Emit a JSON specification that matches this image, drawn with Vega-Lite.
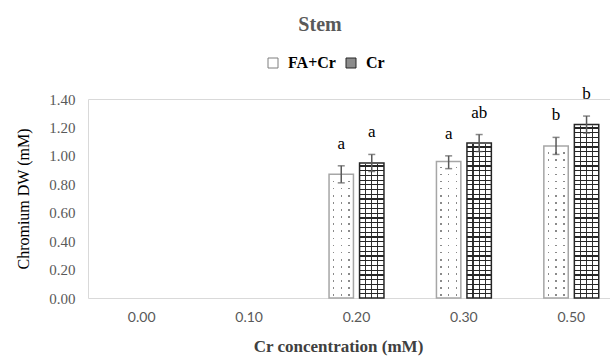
{
"$schema": "https://vega.github.io/schema/vega-lite/v6.json",
"width": 522, "height": 199,
"autosize": {"type": "none"},
"padding": {"left": 88, "top": 99, "right": 0, "bottom": 60},
"background": "white",
"title": {"text": "Stem", "font": "Liberation Serif", "fontSize": 20, "fontWeight": "bold", "color": "#595959", "anchor": "middle", "frame": "group", "dx": -29, "offset": 20},
"data": {"values": [
{"conc": "0.20", "series": "FA+Cr", "value": 0.87, "lo": 0.81, "hi": 0.93, "letter": "a"},
{"conc": "0.20", "series": "Cr", "value": 0.95, "lo": 0.89, "hi": 1.01, "letter": "a"},
{"conc": "0.30", "series": "FA+Cr", "value": 0.96, "lo": 0.91, "hi": 1.0, "letter": "a"},
{"conc": "0.30", "series": "Cr", "value": 1.09, "lo": 1.03, "hi": 1.15, "letter": "ab"},
{"conc": "0.50", "series": "FA+Cr", "value": 1.07, "lo": 1.01, "hi": 1.13, "letter": "b"},
{"conc": "0.50", "series": "Cr", "value": 1.22, "lo": 1.16, "hi": 1.28, "letter": "b"}
]},
"config": {
"view": {"stroke": null},
"legend": {"labelFont": "Liberation Serif", "labelFontSize": 16, "labelFontWeight": "bold", "labelColor": "#000000"},
"axisX": {"labelFont": "Lato", "labelFontSize": 14, "labelColor": "#595959", "labelPadding": 12, "labelAngle": 0, "ticks": false, "tickSize": 0, "domainColor": "#d9d9d9", "domainWidth": 1, "titleFont": "Liberation Serif", "titleFontSize": 17, "titleFontWeight": "bold", "titleColor": "#404040", "titlePadding": 14, "titleX": 250},
"axisY": {"labelFont": "Liberation Serif", "labelFontSize": 15, "labelColor": "#595959", "labelPadding": 13, "labelOverlap": false, "ticks": false, "tickSize": 0, "domainColor": "#d9d9d9", "domainWidth": 1, "gridColor": "#d9d9d9", "titleFont": "Liberation Serif", "titleFontSize": 16, "titleFontWeight": "normal", "titleColor": "#000000", "titlePadding": 17}
},
"layer": [
{
"mark": {"type": "point", "shape": "square", "filled": true, "size": 100, "strokeWidth": 1, "opacity": 1},
"encoding": {
"x": {"field": "conc", "type": "nominal", "title": "Cr concentration (mM)", "scale": {"domain": ["0.00", "0.10", "0.20", "0.30", "0.50"], "range": [0, 537], "paddingInner": 0, "paddingOuter": 0}},
"xOffset": {"field": "series", "type": "nominal", "scale": {"domain": ["FA+Cr", "Cr"], "paddingInner": 0.2, "paddingOuter": 0.86}},
"y": {"datum": 0.1, "type": "quantitative", "title": "Chromium DW (mM)", "scale": {"domain": [0, 1.4], "nice": false}, "axis": {"values": [0, 0.2, 0.4, 0.6, 0.8, 1, 1.2, 1.4], "format": ".2f", "grid": true, "labelOverlap": false, "gridOpacity": {"condition": {"test": "datum.value >= 1.39", "value": 1}, "value": 0}}},
"fill": {"field": "series", "type": "nominal", "scale": {"domain": ["FA+Cr", "Cr"], "range": ["#ffffff", "#8c8c8c"]}, "legend": {"title": null, "orient": "none", "legendX": 177, "legendY": -44, "direction": "horizontal", "labelFont": "Liberation Serif", "labelFontSize": 16, "labelFontWeight": "bold", "labelColor": "#000000", "symbolSize": 100, "symbolStrokeWidth": 1, "labelOffset": 7, "columnPadding": 7, "padding": 0}},
"stroke": {"field": "series", "type": "nominal", "scale": {"domain": ["FA+Cr", "Cr"], "range": ["#7f7f7f", "#262626"]}, "legend": {"title": null, "orient": "none", "legendX": 177, "legendY": -44, "direction": "horizontal", "labelFont": "Liberation Serif", "labelFontSize": 16, "labelFontWeight": "bold", "labelColor": "#000000", "symbolSize": 100, "symbolStrokeWidth": 1, "labelOffset": 7, "columnPadding": 7, "padding": 0}}
}
},
{
"transform": [{"filter": "datum.series === 'FA+Cr'"}],
"mark": {"type": "bar", "fill": {"gradient": "linear", "x1": 0, "y1": 0, "x2": 1, "y2": 0, "stops": [
{"offset": 0, "color": "#fff"}, {"offset": 0.15, "color": "#fff"}, {"offset": 0.15, "color": "#8a8a8a"}, {"offset": 0.21, "color": "#8a8a8a"}, {"offset": 0.21, "color": "#fff"},
{"offset": 0.47, "color": "#fff"}, {"offset": 0.47, "color": "#8a8a8a"}, {"offset": 0.53, "color": "#8a8a8a"}, {"offset": 0.53, "color": "#fff"},
{"offset": 0.79, "color": "#fff"}, {"offset": 0.79, "color": "#8a8a8a"}, {"offset": 0.85, "color": "#8a8a8a"}, {"offset": 0.85, "color": "#fff"}, {"offset": 1, "color": "#fff"}]}},
"encoding": {
"x": {"field": "conc", "type": "nominal", "title": "Cr concentration (mM)"},
"xOffset": {"field": "series", "type": "nominal"},
"y": {"datum": 0, "type": "quantitative", "title": "Chromium DW (mM)", "axis": {"values": [0, 0.2, 0.4, 0.6, 0.8, 1, 1.2, 1.4], "format": ".2f", "grid": true, "labelOverlap": false, "gridOpacity": {"condition": {"test": "datum.value >= 1.39", "value": 1}, "value": 0}}},
"y2": {"datum": 1.3}
}
},
{
"transform": [{"filter": "datum.series === 'FA+Cr'"}],
"mark": {"type": "bar", "fill": {"gradient": "linear", "x1": 0, "y1": 0, "x2": 0, "y2": 1, "stops": [
{"offset": 0, "color": "#fff"},
{"offset": 0.0192, "color": "#fff"}, {"offset": 0.0192, "color": "rgba(255,255,255,0)"}, {"offset": 0.0282, "color": "rgba(255,255,255,0)"}, {"offset": 0.0282, "color": "#fff"},
{"offset": 0.0577, "color": "#fff"}, {"offset": 0.0577, "color": "rgba(255,255,255,0)"}, {"offset": 0.0667, "color": "rgba(255,255,255,0)"}, {"offset": 0.0667, "color": "#fff"},
{"offset": 0.0962, "color": "#fff"}, {"offset": 0.0962, "color": "rgba(255,255,255,0)"}, {"offset": 0.1052, "color": "rgba(255,255,255,0)"}, {"offset": 0.1052, "color": "#fff"},
{"offset": 0.1346, "color": "#fff"}, {"offset": 0.1346, "color": "rgba(255,255,255,0)"}, {"offset": 0.1436, "color": "rgba(255,255,255,0)"}, {"offset": 0.1436, "color": "#fff"},
{"offset": 0.1731, "color": "#fff"}, {"offset": 0.1731, "color": "rgba(255,255,255,0)"}, {"offset": 0.1821, "color": "rgba(255,255,255,0)"}, {"offset": 0.1821, "color": "#fff"},
{"offset": 0.2115, "color": "#fff"}, {"offset": 0.2115, "color": "rgba(255,255,255,0)"}, {"offset": 0.2205, "color": "rgba(255,255,255,0)"}, {"offset": 0.2205, "color": "#fff"},
{"offset": 0.25, "color": "#fff"}, {"offset": 0.25, "color": "rgba(255,255,255,0)"}, {"offset": 0.259, "color": "rgba(255,255,255,0)"}, {"offset": 0.259, "color": "#fff"},
{"offset": 0.2885, "color": "#fff"}, {"offset": 0.2885, "color": "rgba(255,255,255,0)"}, {"offset": 0.2975, "color": "rgba(255,255,255,0)"}, {"offset": 0.2975, "color": "#fff"},
{"offset": 0.3269, "color": "#fff"}, {"offset": 0.3269, "color": "rgba(255,255,255,0)"}, {"offset": 0.3359, "color": "rgba(255,255,255,0)"}, {"offset": 0.3359, "color": "#fff"},
{"offset": 0.3654, "color": "#fff"}, {"offset": 0.3654, "color": "rgba(255,255,255,0)"}, {"offset": 0.3744, "color": "rgba(255,255,255,0)"}, {"offset": 0.3744, "color": "#fff"},
{"offset": 0.4038, "color": "#fff"}, {"offset": 0.4038, "color": "rgba(255,255,255,0)"}, {"offset": 0.4128, "color": "rgba(255,255,255,0)"}, {"offset": 0.4128, "color": "#fff"},
{"offset": 0.4423, "color": "#fff"}, {"offset": 0.4423, "color": "rgba(255,255,255,0)"}, {"offset": 0.4513, "color": "rgba(255,255,255,0)"}, {"offset": 0.4513, "color": "#fff"},
{"offset": 0.4808, "color": "#fff"}, {"offset": 0.4808, "color": "rgba(255,255,255,0)"}, {"offset": 0.4898, "color": "rgba(255,255,255,0)"}, {"offset": 0.4898, "color": "#fff"},
{"offset": 0.5192, "color": "#fff"}, {"offset": 0.5192, "color": "rgba(255,255,255,0)"}, {"offset": 0.5282, "color": "rgba(255,255,255,0)"}, {"offset": 0.5282, "color": "#fff"},
{"offset": 0.5577, "color": "#fff"}, {"offset": 0.5577, "color": "rgba(255,255,255,0)"}, {"offset": 0.5667, "color": "rgba(255,255,255,0)"}, {"offset": 0.5667, "color": "#fff"},
{"offset": 0.5962, "color": "#fff"}, {"offset": 0.5962, "color": "rgba(255,255,255,0)"}, {"offset": 0.6052, "color": "rgba(255,255,255,0)"}, {"offset": 0.6052, "color": "#fff"},
{"offset": 0.6346, "color": "#fff"}, {"offset": 0.6346, "color": "rgba(255,255,255,0)"}, {"offset": 0.6436, "color": "rgba(255,255,255,0)"}, {"offset": 0.6436, "color": "#fff"},
{"offset": 0.6731, "color": "#fff"}, {"offset": 0.6731, "color": "rgba(255,255,255,0)"}, {"offset": 0.6821, "color": "rgba(255,255,255,0)"}, {"offset": 0.6821, "color": "#fff"},
{"offset": 0.7115, "color": "#fff"}, {"offset": 0.7115, "color": "rgba(255,255,255,0)"}, {"offset": 0.7205, "color": "rgba(255,255,255,0)"}, {"offset": 0.7205, "color": "#fff"},
{"offset": 0.75, "color": "#fff"}, {"offset": 0.75, "color": "rgba(255,255,255,0)"}, {"offset": 0.759, "color": "rgba(255,255,255,0)"}, {"offset": 0.759, "color": "#fff"},
{"offset": 0.7885, "color": "#fff"}, {"offset": 0.7885, "color": "rgba(255,255,255,0)"}, {"offset": 0.7975, "color": "rgba(255,255,255,0)"}, {"offset": 0.7975, "color": "#fff"},
{"offset": 0.8269, "color": "#fff"}, {"offset": 0.8269, "color": "rgba(255,255,255,0)"}, {"offset": 0.8359, "color": "rgba(255,255,255,0)"}, {"offset": 0.8359, "color": "#fff"},
{"offset": 0.8654, "color": "#fff"}, {"offset": 0.8654, "color": "rgba(255,255,255,0)"}, {"offset": 0.8744, "color": "rgba(255,255,255,0)"}, {"offset": 0.8744, "color": "#fff"},
{"offset": 0.9038, "color": "#fff"}, {"offset": 0.9038, "color": "rgba(255,255,255,0)"}, {"offset": 0.9128, "color": "rgba(255,255,255,0)"}, {"offset": 0.9128, "color": "#fff"},
{"offset": 0.9423, "color": "#fff"}, {"offset": 0.9423, "color": "rgba(255,255,255,0)"}, {"offset": 0.9513, "color": "rgba(255,255,255,0)"}, {"offset": 0.9513, "color": "#fff"},
{"offset": 0.9808, "color": "#fff"}, {"offset": 0.9808, "color": "rgba(255,255,255,0)"}, {"offset": 0.9898, "color": "rgba(255,255,255,0)"}, {"offset": 0.9898, "color": "#fff"},
{"offset": 1, "color": "#fff"}]}},
"encoding": {
"x": {"field": "conc", "type": "nominal", "title": "Cr concentration (mM)"},
"xOffset": {"field": "series", "type": "nominal"},
"y": {"datum": 0, "type": "quantitative", "title": "Chromium DW (mM)", "axis": {"values": [0, 0.2, 0.4, 0.6, 0.8, 1, 1.2, 1.4], "format": ".2f", "grid": true, "labelOverlap": false, "gridOpacity": {"condition": {"test": "datum.value >= 1.39", "value": 1}, "value": 0}}},
"y2": {"datum": 1.3}
}
},
{
"transform": [{"filter": "datum.series === 'Cr'"}],
"mark": {"type": "bar", "fill": {"gradient": "linear", "x1": 0, "y1": 0, "x2": 1, "y2": 0, "stops": [
{"offset": 0, "color": "#fff"}, {"offset": 0.225, "color": "#fff"}, {"offset": 0.225, "color": "#333"}, {"offset": 0.275, "color": "#333"}, {"offset": 0.275, "color": "#fff"},
{"offset": 0.475, "color": "#fff"}, {"offset": 0.475, "color": "#333"}, {"offset": 0.525, "color": "#333"}, {"offset": 0.525, "color": "#fff"},
{"offset": 0.725, "color": "#fff"}, {"offset": 0.725, "color": "#333"}, {"offset": 0.775, "color": "#333"}, {"offset": 0.775, "color": "#fff"}, {"offset": 1, "color": "#fff"}]}},
"encoding": {
"x": {"field": "conc", "type": "nominal", "title": "Cr concentration (mM)"},
"xOffset": {"field": "series", "type": "nominal"},
"y": {"datum": 0, "type": "quantitative", "title": "Chromium DW (mM)", "axis": {"values": [0, 0.2, 0.4, 0.6, 0.8, 1, 1.2, 1.4], "format": ".2f", "grid": true, "labelOverlap": false, "gridOpacity": {"condition": {"test": "datum.value >= 1.39", "value": 1}, "value": 0}}},
"y2": {"datum": 1.3}
}
},
{
"transform": [{"filter": "datum.series === 'Cr'"}],
"mark": {"type": "bar", "fill": {"gradient": "linear", "x1": 0, "y1": 0, "x2": 0, "y2": 1, "stops": [
{"offset": 0, "color": "rgba(0,0,0,0)"},
{"offset": 0.0256, "color": "rgba(0,0,0,0)"}, {"offset": 0.0256, "color": "#262626"}, {"offset": 0.0321, "color": "#262626"}, {"offset": 0.0321, "color": "rgba(0,0,0,0)"},
{"offset": 0.0513, "color": "rgba(0,0,0,0)"}, {"offset": 0.0513, "color": "#262626"}, {"offset": 0.0578, "color": "#262626"}, {"offset": 0.0578, "color": "rgba(0,0,0,0)"},
{"offset": 0.0769, "color": "rgba(0,0,0,0)"}, {"offset": 0.0769, "color": "#262626"}, {"offset": 0.0834, "color": "#262626"}, {"offset": 0.0834, "color": "rgba(0,0,0,0)"},
{"offset": 0.1026, "color": "rgba(0,0,0,0)"}, {"offset": 0.1026, "color": "#262626"}, {"offset": 0.1091, "color": "#262626"}, {"offset": 0.1091, "color": "rgba(0,0,0,0)"},
{"offset": 0.1282, "color": "rgba(0,0,0,0)"}, {"offset": 0.1282, "color": "#262626"}, {"offset": 0.1347, "color": "#262626"}, {"offset": 0.1347, "color": "rgba(0,0,0,0)"},
{"offset": 0.1538, "color": "rgba(0,0,0,0)"}, {"offset": 0.1538, "color": "#262626"}, {"offset": 0.1603, "color": "#262626"}, {"offset": 0.1603, "color": "rgba(0,0,0,0)"},
{"offset": 0.1795, "color": "rgba(0,0,0,0)"}, {"offset": 0.1795, "color": "#262626"}, {"offset": 0.186, "color": "#262626"}, {"offset": 0.186, "color": "rgba(0,0,0,0)"},
{"offset": 0.2051, "color": "rgba(0,0,0,0)"}, {"offset": 0.2051, "color": "#262626"}, {"offset": 0.2116, "color": "#262626"}, {"offset": 0.2116, "color": "rgba(0,0,0,0)"},
{"offset": 0.2308, "color": "rgba(0,0,0,0)"}, {"offset": 0.2308, "color": "#262626"}, {"offset": 0.2373, "color": "#262626"}, {"offset": 0.2373, "color": "rgba(0,0,0,0)"},
{"offset": 0.2564, "color": "rgba(0,0,0,0)"}, {"offset": 0.2564, "color": "#262626"}, {"offset": 0.2629, "color": "#262626"}, {"offset": 0.2629, "color": "rgba(0,0,0,0)"},
{"offset": 0.2821, "color": "rgba(0,0,0,0)"}, {"offset": 0.2821, "color": "#262626"}, {"offset": 0.2886, "color": "#262626"}, {"offset": 0.2886, "color": "rgba(0,0,0,0)"},
{"offset": 0.3077, "color": "rgba(0,0,0,0)"}, {"offset": 0.3077, "color": "#262626"}, {"offset": 0.3142, "color": "#262626"}, {"offset": 0.3142, "color": "rgba(0,0,0,0)"},
{"offset": 0.3333, "color": "rgba(0,0,0,0)"}, {"offset": 0.3333, "color": "#262626"}, {"offset": 0.3398, "color": "#262626"}, {"offset": 0.3398, "color": "rgba(0,0,0,0)"},
{"offset": 0.359, "color": "rgba(0,0,0,0)"}, {"offset": 0.359, "color": "#262626"}, {"offset": 0.3655, "color": "#262626"}, {"offset": 0.3655, "color": "rgba(0,0,0,0)"},
{"offset": 0.3846, "color": "rgba(0,0,0,0)"}, {"offset": 0.3846, "color": "#262626"}, {"offset": 0.3911, "color": "#262626"}, {"offset": 0.3911, "color": "rgba(0,0,0,0)"},
{"offset": 0.4103, "color": "rgba(0,0,0,0)"}, {"offset": 0.4103, "color": "#262626"}, {"offset": 0.4168, "color": "#262626"}, {"offset": 0.4168, "color": "rgba(0,0,0,0)"},
{"offset": 0.4359, "color": "rgba(0,0,0,0)"}, {"offset": 0.4359, "color": "#262626"}, {"offset": 0.4424, "color": "#262626"}, {"offset": 0.4424, "color": "rgba(0,0,0,0)"},
{"offset": 0.4615, "color": "rgba(0,0,0,0)"}, {"offset": 0.4615, "color": "#262626"}, {"offset": 0.468, "color": "#262626"}, {"offset": 0.468, "color": "rgba(0,0,0,0)"},
{"offset": 0.4872, "color": "rgba(0,0,0,0)"}, {"offset": 0.4872, "color": "#262626"}, {"offset": 0.4937, "color": "#262626"}, {"offset": 0.4937, "color": "rgba(0,0,0,0)"},
{"offset": 0.5128, "color": "rgba(0,0,0,0)"}, {"offset": 0.5128, "color": "#262626"}, {"offset": 0.5193, "color": "#262626"}, {"offset": 0.5193, "color": "rgba(0,0,0,0)"},
{"offset": 0.5385, "color": "rgba(0,0,0,0)"}, {"offset": 0.5385, "color": "#262626"}, {"offset": 0.545, "color": "#262626"}, {"offset": 0.545, "color": "rgba(0,0,0,0)"},
{"offset": 0.5641, "color": "rgba(0,0,0,0)"}, {"offset": 0.5641, "color": "#262626"}, {"offset": 0.5706, "color": "#262626"}, {"offset": 0.5706, "color": "rgba(0,0,0,0)"},
{"offset": 0.5897, "color": "rgba(0,0,0,0)"}, {"offset": 0.5897, "color": "#262626"}, {"offset": 0.5962, "color": "#262626"}, {"offset": 0.5962, "color": "rgba(0,0,0,0)"},
{"offset": 0.6154, "color": "rgba(0,0,0,0)"}, {"offset": 0.6154, "color": "#262626"}, {"offset": 0.6219, "color": "#262626"}, {"offset": 0.6219, "color": "rgba(0,0,0,0)"},
{"offset": 0.641, "color": "rgba(0,0,0,0)"}, {"offset": 0.641, "color": "#262626"}, {"offset": 0.6475, "color": "#262626"}, {"offset": 0.6475, "color": "rgba(0,0,0,0)"},
{"offset": 0.6667, "color": "rgba(0,0,0,0)"}, {"offset": 0.6667, "color": "#262626"}, {"offset": 0.6732, "color": "#262626"}, {"offset": 0.6732, "color": "rgba(0,0,0,0)"},
{"offset": 0.6923, "color": "rgba(0,0,0,0)"}, {"offset": 0.6923, "color": "#262626"}, {"offset": 0.6988, "color": "#262626"}, {"offset": 0.6988, "color": "rgba(0,0,0,0)"},
{"offset": 0.7179, "color": "rgba(0,0,0,0)"}, {"offset": 0.7179, "color": "#262626"}, {"offset": 0.7244, "color": "#262626"}, {"offset": 0.7244, "color": "rgba(0,0,0,0)"},
{"offset": 0.7436, "color": "rgba(0,0,0,0)"}, {"offset": 0.7436, "color": "#262626"}, {"offset": 0.7501, "color": "#262626"}, {"offset": 0.7501, "color": "rgba(0,0,0,0)"},
{"offset": 0.7692, "color": "rgba(0,0,0,0)"}, {"offset": 0.7692, "color": "#262626"}, {"offset": 0.7757, "color": "#262626"}, {"offset": 0.7757, "color": "rgba(0,0,0,0)"},
{"offset": 0.7949, "color": "rgba(0,0,0,0)"}, {"offset": 0.7949, "color": "#262626"}, {"offset": 0.8014, "color": "#262626"}, {"offset": 0.8014, "color": "rgba(0,0,0,0)"},
{"offset": 0.8205, "color": "rgba(0,0,0,0)"}, {"offset": 0.8205, "color": "#262626"}, {"offset": 0.827, "color": "#262626"}, {"offset": 0.827, "color": "rgba(0,0,0,0)"},
{"offset": 0.8462, "color": "rgba(0,0,0,0)"}, {"offset": 0.8462, "color": "#262626"}, {"offset": 0.8527, "color": "#262626"}, {"offset": 0.8527, "color": "rgba(0,0,0,0)"},
{"offset": 0.8718, "color": "rgba(0,0,0,0)"}, {"offset": 0.8718, "color": "#262626"}, {"offset": 0.8783, "color": "#262626"}, {"offset": 0.8783, "color": "rgba(0,0,0,0)"},
{"offset": 0.8974, "color": "rgba(0,0,0,0)"}, {"offset": 0.8974, "color": "#262626"}, {"offset": 0.9039, "color": "#262626"}, {"offset": 0.9039, "color": "rgba(0,0,0,0)"},
{"offset": 0.9231, "color": "rgba(0,0,0,0)"}, {"offset": 0.9231, "color": "#262626"}, {"offset": 0.9296, "color": "#262626"}, {"offset": 0.9296, "color": "rgba(0,0,0,0)"},
{"offset": 0.9487, "color": "rgba(0,0,0,0)"}, {"offset": 0.9487, "color": "#262626"}, {"offset": 0.9552, "color": "#262626"}, {"offset": 0.9552, "color": "rgba(0,0,0,0)"},
{"offset": 0.9744, "color": "rgba(0,0,0,0)"}, {"offset": 0.9744, "color": "#262626"}, {"offset": 0.9809, "color": "#262626"}, {"offset": 0.9809, "color": "rgba(0,0,0,0)"},
{"offset": 1, "color": "rgba(0,0,0,0)"}]}},
"encoding": {
"x": {"field": "conc", "type": "nominal", "title": "Cr concentration (mM)"},
"xOffset": {"field": "series", "type": "nominal"},
"y": {"datum": 0, "type": "quantitative", "title": "Chromium DW (mM)", "axis": {"values": [0, 0.2, 0.4, 0.6, 0.8, 1, 1.2, 1.4], "format": ".2f", "grid": true, "labelOverlap": false, "gridOpacity": {"condition": {"test": "datum.value >= 1.39", "value": 1}, "value": 0}}},
"y2": {"datum": 1.3}
}
},
{
"mark": {"type": "bar", "fill": "#ffffff", "stroke": "#ffffff", "strokeWidth": 2},
"encoding": {
"x": {"field": "conc", "type": "nominal", "title": "Cr concentration (mM)"},
"xOffset": {"field": "series", "type": "nominal"},
"y": {"field": "value", "type": "quantitative", "title": "Chromium DW (mM)", "axis": {"values": [0, 0.2, 0.4, 0.6, 0.8, 1, 1.2, 1.4], "format": ".2f", "grid": true, "labelOverlap": false, "gridOpacity": {"condition": {"test": "datum.value >= 1.39", "value": 1}, "value": 0}}},
"y2": {"datum": 1.3}
}
},
{
"mark": {"type": "bar", "fill": "transparent", "strokeWidth": 1.5},
"encoding": {
"x": {"field": "conc", "type": "nominal", "title": "Cr concentration (mM)"},
"xOffset": {"field": "series", "type": "nominal"},
"y": {"field": "value", "type": "quantitative", "title": "Chromium DW (mM)", "axis": {"values": [0, 0.2, 0.4, 0.6, 0.8, 1, 1.2, 1.4], "format": ".2f", "grid": true, "labelOverlap": false, "gridOpacity": {"condition": {"test": "datum.value >= 1.39", "value": 1}, "value": 0}}},
"stroke": {"condition": {"test": "datum.series === 'Cr'", "value": "#262626"}, "value": "#a6a6a6"}
}
},
{
"mark": {"type": "rule", "color": "#595959", "strokeWidth": 1.5},
"encoding": {
"x": {"field": "conc", "type": "nominal", "title": "Cr concentration (mM)"},
"xOffset": {"field": "series", "type": "nominal"},
"y": {"field": "lo", "type": "quantitative", "title": "Chromium DW (mM)", "axis": {"values": [0, 0.2, 0.4, 0.6, 0.8, 1, 1.2, 1.4], "format": ".2f", "grid": true, "labelOverlap": false, "gridOpacity": {"condition": {"test": "datum.value >= 1.39", "value": 1}, "value": 0}}},
"y2": {"field": "hi"}
}
},
{
"mark": {"type": "tick", "color": "#595959", "thickness": 1.5, "size": 7},
"encoding": {
"x": {"field": "conc", "type": "nominal", "title": "Cr concentration (mM)"},
"xOffset": {"field": "series", "type": "nominal"},
"y": {"field": "hi", "type": "quantitative", "title": "Chromium DW (mM)", "axis": {"values": [0, 0.2, 0.4, 0.6, 0.8, 1, 1.2, 1.4], "format": ".2f", "grid": true, "labelOverlap": false, "gridOpacity": {"condition": {"test": "datum.value >= 1.39", "value": 1}, "value": 0}}}
}
},
{
"mark": {"type": "tick", "color": "#595959", "thickness": 1.5, "size": 7},
"encoding": {
"x": {"field": "conc", "type": "nominal", "title": "Cr concentration (mM)"},
"xOffset": {"field": "series", "type": "nominal"},
"y": {"field": "lo", "type": "quantitative", "title": "Chromium DW (mM)", "axis": {"values": [0, 0.2, 0.4, 0.6, 0.8, 1, 1.2, 1.4], "format": ".2f", "grid": true, "labelOverlap": false, "gridOpacity": {"condition": {"test": "datum.value >= 1.39", "value": 1}, "value": 0}}}
}
},
{
"mark": {"type": "text", "font": "Liberation Serif", "fontSize": 17, "dy": -17, "baseline": "alphabetic", "color": "#000000"},
"encoding": {
"x": {"field": "conc", "type": "nominal", "title": "Cr concentration (mM)"},
"xOffset": {"field": "series", "type": "nominal"},
"y": {"field": "hi", "type": "quantitative", "title": "Chromium DW (mM)", "axis": {"values": [0, 0.2, 0.4, 0.6, 0.8, 1, 1.2, 1.4], "format": ".2f", "grid": true, "labelOverlap": false, "gridOpacity": {"condition": {"test": "datum.value >= 1.39", "value": 1}, "value": 0}}},
"text": {"field": "letter"}
}
}
]
}
